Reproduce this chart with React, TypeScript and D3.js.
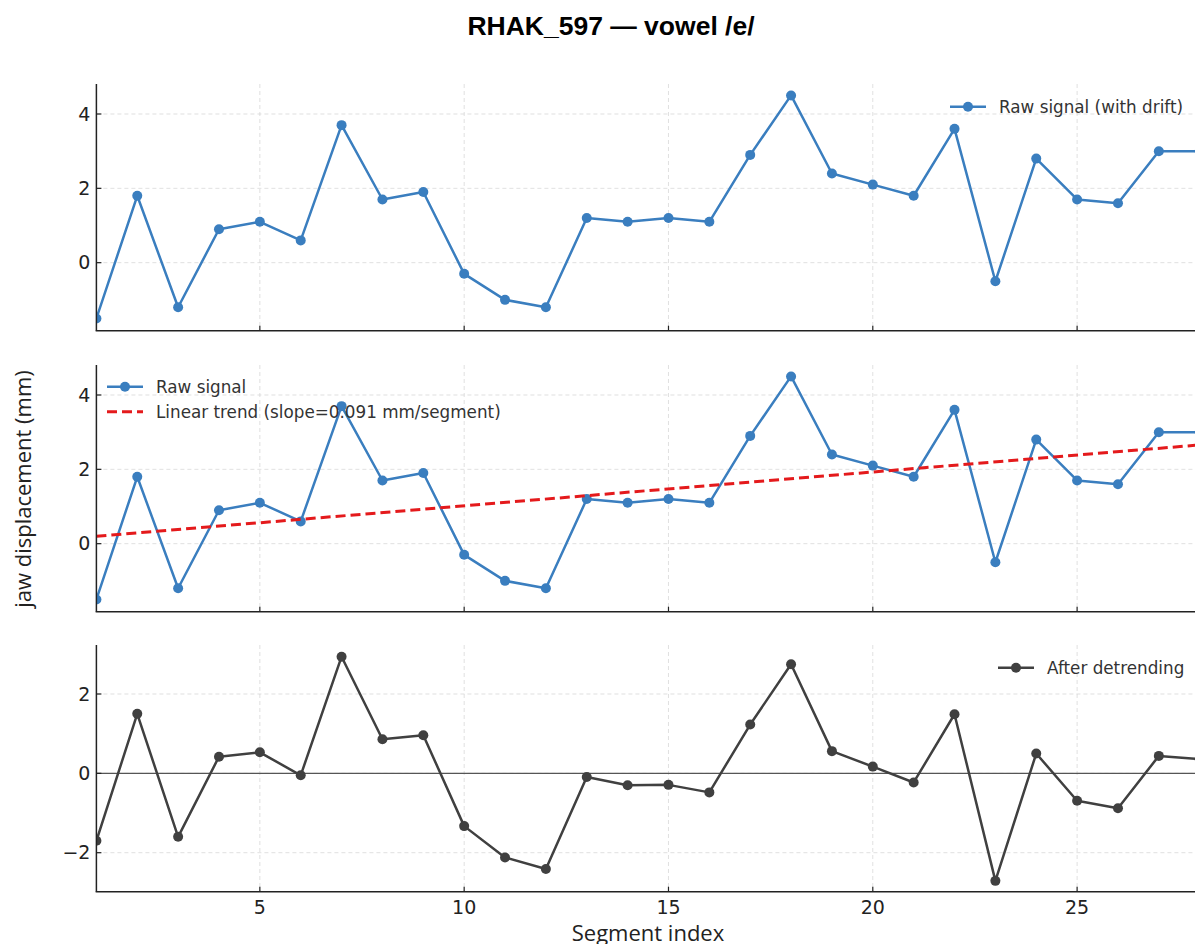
import * as d3 from "d3";
import React, { useEffect, useRef } from "react";

// segment index 1..28
const segments = d3.range(1, 29);

// raw jaw displacement (mm), with drift
const rawSignal = [
  -1.5, 1.8, -1.2, 0.9, 1.1, 0.6, 3.7, 1.7, 1.9, -0.3, -1.0, -1.2, 1.2, 1.1,
  1.2, 1.1, 2.9, 4.5, 2.4, 2.1, 1.8, 3.6, -0.5, 2.8, 1.7, 1.6, 3.0, 3.0,
];

// after detrending
const detrended = [
  -1.7, 1.5, -1.6, 0.42, 0.53, -0.05, 2.94, 0.86, 0.96, -1.33, -2.12, -2.41,
  -0.09, -0.3, -0.29, -0.48, 1.23, 2.75, 0.56, 0.17, -0.23, 1.49, -2.71, 0.5,
  -0.69, -0.88, 0.44, 0.36,
];

// linear trend endpoints [segment, mm]
const trendLine: [number, number][] = [
  [1, 0.2],
  [28, 2.657],
];
const trendSlope = "0.091";

const xTicks = [5, 10, 15, 20, 25];
const yTicksTop = [0, 2, 4];
const yTicksBottom = [-2, 0, 2];

const W = 1195;
const H = 944;

const App = () => {
  const ref = useRef<SVGSVGElement>(null);

  useEffect(() => {
    const svg = d3.select(ref.current);
    svg.selectAll("*").remove();

    const left = 96.4;
    const right = 1199.7;
    const x = d3.scaleLinear().domain([1, 28]).range([left, right]);

    const panels = [
      { top: 84, bottom: 330.7, domain: [-1.83, 4.807], ticks: yTicksTop },
      { top: 365, bottom: 611.7, domain: [-1.83, 4.807], ticks: yTicksTop },
      { top: 645, bottom: 891.7, domain: [-2.983, 3.235], ticks: yTicksBottom },
    ];

    const blue = "#3a7ebf";
    const dark = "#404040";
    const red = "#e41a1c";
    const tickFont = "'DejaVu Sans', sans-serif";

    panels.forEach((p, i) => {
      const y = d3.scaleLinear().domain(p.domain).range([p.bottom, p.top]);
      const g = svg.append("g");

      svg
        .append("clipPath")
        .attr("id", "clip" + i)
        .append("rect")
        .attr("x", left)
        .attr("y", p.top)
        .attr("width", right - left)
        .attr("height", p.bottom - p.top);

      // grid
      g.selectAll(".vg")
        .data(xTicks)
        .join("line")
        .attr("x1", (d) => x(d))
        .attr("x2", (d) => x(d))
        .attr("y1", p.top)
        .attr("y2", p.bottom)
        .attr("stroke", "#d8d8d8")
        .attr("stroke-width", 0.8)
        .attr("stroke-dasharray", "4,3");
      g.selectAll(".hg")
        .data(p.ticks)
        .join("line")
        .attr("x1", left)
        .attr("x2", right)
        .attr("y1", (d) => y(d))
        .attr("y2", (d) => y(d))
        .attr("stroke", "#d8d8d8")
        .attr("stroke-width", 0.8)
        .attr("stroke-dasharray", "4,3");

      const plot = g.append("g").attr("clip-path", `url(#clip${i})`);

      const line = d3
        .line<number>()
        .x((_, j) => x(segments[j]))
        .y((d) => y(d));

      if (i === 2) {
        plot
          .append("line")
          .attr("x1", left)
          .attr("x2", right)
          .attr("y1", y(0))
          .attr("y2", y(0))
          .attr("stroke", "#555")
          .attr("stroke-width", 1.3);
      }

      const vals = i === 2 ? detrended : rawSignal;
      const col = i === 2 ? dark : blue;

      plot
        .append("path")
        .datum(vals)
        .attr("fill", "none")
        .attr("stroke", col)
        .attr("stroke-width", 2.5)
        .attr("stroke-linejoin", "round")
        .attr("d", line);
      plot
        .selectAll("circle")
        .data(vals)
        .join("circle")
        .attr("cx", (_, j) => x(segments[j]))
        .attr("cy", (d) => y(d))
        .attr("r", 5)
        .attr("fill", col);

      if (i === 1) {
        plot
          .append("path")
          .datum(trendLine)
          .attr("fill", "none")
          .attr("stroke", red)
          .attr("stroke-width", 3)
          .attr("stroke-dasharray", "10,5")
          .attr(
            "d",
            d3
              .line<[number, number]>()
              .x((d) => x(d[0]))
              .y((d) => y(d[1]))
          );
      }

      // spines
      g.append("line")
        .attr("x1", left)
        .attr("x2", left)
        .attr("y1", p.top)
        .attr("y2", p.bottom)
        .attr("stroke", "#222")
        .attr("stroke-width", 1.5);
      g.append("line")
        .attr("x1", left - 0.75)
        .attr("x2", right)
        .attr("y1", p.bottom)
        .attr("y2", p.bottom)
        .attr("stroke", "#222")
        .attr("stroke-width", 1.5);

      // ticks (inward)
      g.selectAll(".yt")
        .data(p.ticks)
        .join("line")
        .attr("x1", left)
        .attr("x2", left + 5)
        .attr("y1", (d) => y(d))
        .attr("y2", (d) => y(d))
        .attr("stroke", "#222")
        .attr("stroke-width", 1.2);
      g.selectAll(".xt")
        .data(xTicks)
        .join("line")
        .attr("x1", (d) => x(d))
        .attr("x2", (d) => x(d))
        .attr("y1", p.bottom)
        .attr("y2", p.bottom - 5)
        .attr("stroke", "#222")
        .attr("stroke-width", 1.2);

      g.selectAll(".ytl")
        .data(p.ticks)
        .join("text")
        .attr("x", left - 6)
        .attr("y", (d) => y(d))
        .attr("dy", "0.35em")
        .attr("text-anchor", "end")
        .attr("font-family", tickFont)
        .attr("font-size", 19)
        .attr("fill", "#222")
        .text((d) => (d < 0 ? "\u2212" + Math.abs(d) : String(d)));

      if (i === 2) {
        g.selectAll(".xtl")
          .data(xTicks)
          .join("text")
          .attr("x", (d) => x(d))
          .attr("y", p.bottom + 22)
          .attr("text-anchor", "middle")
          .attr("font-family", tickFont)
          .attr("font-size", 19)
          .attr("fill", "#222")
          .text((d) => d);
      }
    });

    // legends
    const legend = (
      lx: number,
      ly: number,
      color: string,
      label: string,
      dashed: boolean
    ) => {
      const lg = svg.append("g");
      lg.append("line")
        .attr("x1", lx)
        .attr("x2", lx + 36)
        .attr("y1", ly)
        .attr("y2", ly)
        .attr("stroke", color)
        .attr("stroke-width", dashed ? 3 : 2.5)
        .attr("stroke-dasharray", dashed ? "10,5" : null);
      if (!dashed) {
        lg.append("circle")
          .attr("cx", lx + 18)
          .attr("cy", ly)
          .attr("r", 5)
          .attr("fill", color);
      }
      lg.append("text")
        .attr("x", lx + 49)
        .attr("y", ly)
        .attr("dy", "0.35em")
        .attr("font-family", tickFont)
        .attr("font-size", 16.8)
        .attr("fill", "#333")
        .text(label);
    };
    legend(950, 106.7, blue, "Raw signal (with drift)", false);
    legend(107, 386.7, blue, "Raw signal", false);
    legend(107, 411.7, red, `Linear trend (slope=${trendSlope} mm/segment)`, true);
    legend(998, 667.7, dark, "After detrending", false);

    // title and axis labels
    svg
      .append("text")
      .attr("x", 611)
      .attr("y", 35)
      .attr("text-anchor", "middle")
      .attr("font-family", "'Liberation Sans', Arial, sans-serif")
      .attr("font-weight", "bold")
      .attr("font-size", 26.5)
      .attr("fill", "#000")
      .text("RHAK_597 \u2014 vowel /e/");

    svg
      .append("text")
      .attr("transform", `translate(31,489) rotate(-90)`)
      .attr("text-anchor", "middle")
      .attr("font-family", "'Open Sans', sans-serif")
      .attr("font-size", 22)
      .attr("fill", "#222")
      .text("jaw displacement (mm)");

    svg
      .append("text")
      .attr("x", 648)
      .attr("y", 941)
      .attr("text-anchor", "middle")
      .attr("font-family", "'Open Sans', sans-serif")
      .attr("font-size", 22)
      .attr("fill", "#222")
      .text("Segment index");
  }, []);

  return (
    <svg
      ref={ref}
      width={W}
      height={H}
      style={{ position: "absolute", left: 0, top: 0, background: "#fff" }}
    />
  );
};

export default App;
